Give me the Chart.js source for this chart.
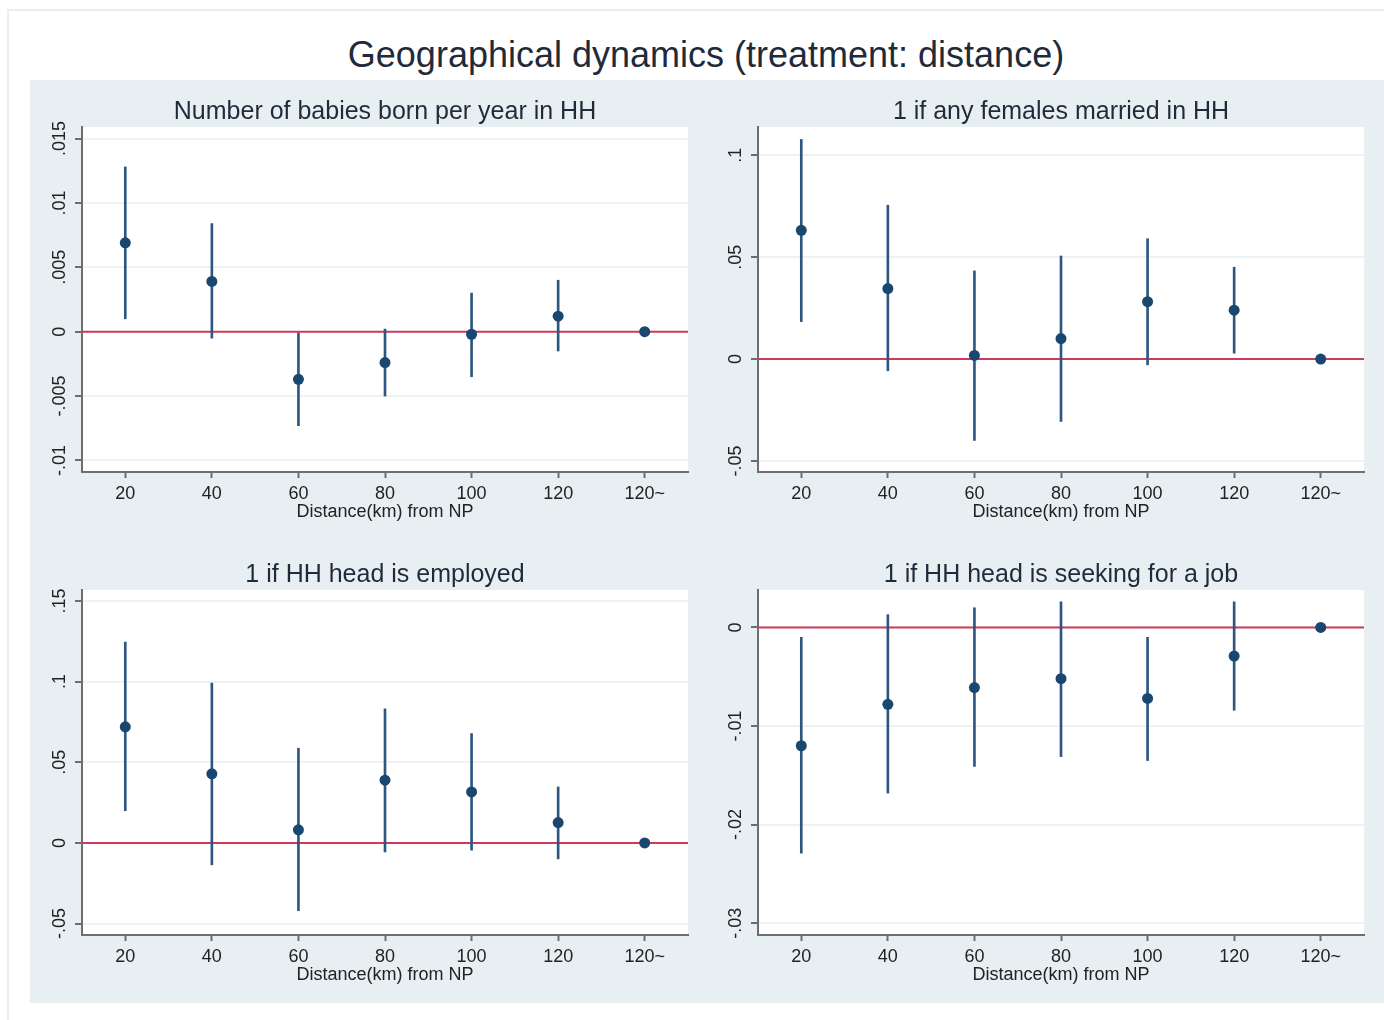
<!DOCTYPE html>
<html>
<head>
<meta charset="utf-8">
<script src="https://cdn.jsdelivr.net/npm/chart.js@4.4.1/dist/chart.umd.min.js"></script>
<style>
  body { margin:0; background:#fff; width:1384px; height:1020px; position:relative; overflow:hidden; font-family:"Liberation Sans", Arial, sans-serif; }
  #frame { position:absolute; left:7px; top:9px; width:1400px; height:1100px; border-left:2px solid #e8efef; border-top:2px solid #e8efef; }
  #bg { position:absolute; left:30px; top:80px; width:1354px; height:923px; background:#e8eff2; }
  #title { position:absolute; left:0; top:36px; width:1412px; text-align:center; font-size:36px; line-height:38px; color:#1f2b3a; }
  canvas { position:absolute; }
</style>
</head>
<body>
<div id="frame"></div>
<div id="bg"></div>
<div id="title">Geographical dynamics (treatment: distance)</div>
<canvas id="babies" width="670" height="437" style="left:30px;top:88px"></canvas>
<canvas id="married" width="670" height="437" style="left:706px;top:88px"></canvas>
<canvas id="employed" width="670" height="437" style="left:30px;top:551px"></canvas>
<canvas id="seeking" width="670" height="437" style="left:706px;top:551px"></canvas>
<script>
const categories = ['20', '40', '60', '80', '100', '120', '120~'];

// Number of babies born per year in HH
const babiesCoef = [0.0069, 0.0039, -0.0037, -0.0024, -0.0002, 0.0012, 0];
const babiesLow  = [0.0010, -0.0005, -0.0073, -0.0050, -0.0035, -0.0015, null];
const babiesHigh = [0.0128, 0.0084, -0.0001, 0.0002, 0.0030, 0.0040, null];
const babiesTicks  = [-0.01, -0.005, 0, 0.005, 0.01, 0.015];
const babiesLabels = ['-.01', '-.005', '0', '.005', '.01', '.015'];

// 1 if any females married in HH
const marriedCoef = [0.0632, 0.0346, 0.0018, 0.0101, 0.0282, 0.0240, 0];
const marriedLow  = [0.0184, -0.0057, -0.0399, -0.0306, -0.0028, 0.0029, null];
const marriedHigh = [0.1078, 0.0755, 0.0433, 0.0506, 0.0591, 0.0451, null];
const marriedTicks  = [-0.05, 0, 0.05, 0.1];
const marriedLabels = ['-.05', '0', '.05', '.1'];

// 1 if HH head is employed
const employedCoef = [0.0720, 0.0428, 0.0081, 0.0389, 0.0316, 0.0126, 0];
const employedLow  = [0.0200, -0.0136, -0.0420, -0.0056, -0.0045, -0.0099, null];
const employedHigh = [0.1245, 0.0991, 0.0587, 0.0831, 0.0678, 0.0347, null];
const employedTicks  = [-0.05, 0, 0.05, 0.1, 0.15];
const employedLabels = ['-.05', '0', '.05', '.1', '.15'];

// 1 if HH head is seeking for a job
const seekingCoef = [-0.0120, -0.0078, -0.0061, -0.0052, -0.0072, -0.0029, 0];
const seekingLow  = [-0.0229, -0.0168, -0.0141, -0.0131, -0.0135, -0.0084, null];
const seekingHigh = [-0.0010, 0.0013, 0.0020, 0.0026, -0.0010, 0.0026, null];
const seekingTicks  = [-0.03, -0.02, -0.01, 0];
const seekingLabels = ['-.03', '-.02', '-.01', '0'];

const FONT = '"Liberation Sans", Arial, sans-serif';
const navy = '#1a476f';
const ciColor = '#2e5680';
const axisColor = '#6e6e6e';
const gridColor = '#edf3f4';
const textColor = '#222222';
const titleColor = '#1f2b3a';

function makePanel(id, title, coef, low, high, yMin, yMax, yTicks, yLabels) {
  const plotBg = {
    id: 'plotBg',
    beforeDraw(chart) {
      const a = chart.chartArea;
      chart.ctx.save();
      chart.ctx.fillStyle = '#ffffff';
      chart.ctx.fillRect(a.left, a.top, a.right - a.left, a.bottom - a.top);
      chart.ctx.restore();
    }
  };
  const zeroLine = {
    id: 'zeroLine',
    beforeDatasetsDraw(chart) {
      const a = chart.chartArea;
      const y = chart.scales.y.getPixelForValue(0);
      const ctx = chart.ctx;
      ctx.save();
      ctx.strokeStyle = '#cf3a58';
      ctx.lineWidth = 2;
      ctx.beginPath();
      ctx.moveTo(a.left, y);
      ctx.lineTo(a.right, y);
      ctx.stroke();
      ctx.restore();
    }
  };
  // rotated y tick labels, like Stata's vertical axis labels
  const yTickText = {
    id: 'yTickText',
    afterDraw(chart) {
      const s = chart.scales.y;
      const ctx = chart.ctx;
      ctx.save();
      ctx.fillStyle = textColor;
      ctx.font = '18px ' + FONT;
      ctx.textAlign = 'center';
      ctx.textBaseline = 'middle';
      yTicks.forEach((v, i) => {
        ctx.save();
        ctx.translate(s.right - 22, s.getPixelForValue(v));
        ctx.rotate(-Math.PI / 2);
        ctx.fillText(yLabels[i], 0, 0);
        ctx.restore();
      });
      ctx.restore();
    }
  };

  new Chart(document.getElementById(id), {
    type: 'bar',
    data: {
      labels: categories,
      datasets: [
        {
          type: 'line',
          data: coef,
          showLine: false,
          pointRadius: 5.5,
          pointHoverRadius: 5.5,
          pointBackgroundColor: navy,
          pointBorderWidth: 0
        },
        {
          type: 'bar',
          data: low.map((v, i) => v === null ? null : [v, high[i]]),
          backgroundColor: ciColor,
          barThickness: 2,
          borderWidth: 0
        }
      ]
    },
    options: {
      responsive: false,
      animation: false,
      events: [],
      layout: { padding: { left: 0, right: 12, top: 0, bottom: 0 } },
      plugins: {
        legend: { display: false },
        tooltip: { enabled: false },
        title: {
          display: true,
          fullSize: false,   // centre the panel title over the plot area
          text: title,
          color: titleColor,
          font: { family: FONT, size: 25, weight: 'normal', lineHeight: 1.2 },
          padding: { top: 9, bottom: 0 }
        }
      },
      scales: {
        x: {
          type: 'category',
          offset: true,
          grid: { display: true, drawOnChartArea: false, drawTicks: true, tickLength: 6, tickColor: axisColor, tickWidth: 2, offset: false },
          border: { display: true, color: axisColor, width: 2 },
          ticks: { color: textColor, font: { family: FONT, size: 18, lineHeight: 1 }, padding: 7, maxRotation: 0, autoSkip: false },
          title: { display: true, text: 'Distance(km) from NP', color: textColor, font: { family: FONT, size: 18, lineHeight: 1 }, padding: { top: -7, bottom: 4 } }
        },
        y: {
          type: 'linear',
          min: yMin,
          max: yMax,
          afterBuildTicks: s => { s.ticks = yTicks.map(v => ({ value: v })); },
          afterFit: s => { s.width = 52; },
          grid: { color: gridColor, lineWidth: 2, drawTicks: true, tickLength: 7, tickColor: axisColor, tickWidth: 2 },
          border: { display: true, color: axisColor, width: 2 },
          ticks: { display: false }
        }
      }
    },
    plugins: [plotBg, zeroLine, yTickText]
  });
}

makePanel('babies', 'Number of babies born per year in HH', babiesCoef, babiesLow, babiesHigh, -0.0109, 0.0159, babiesTicks, babiesLabels);
makePanel('married', '1 if any females married in HH', marriedCoef, marriedLow, marriedHigh, -0.0554, 0.1139, marriedTicks, marriedLabels);
makePanel('employed', '1 if HH head is employed', employedCoef, employedLow, employedHigh, -0.0571, 0.1568, employedTicks, employedLabels);
makePanel('seeking', '1 if HH head is seeking for a job', seekingCoef, seekingLow, seekingHigh, -0.0312, 0.0038, seekingTicks, seekingLabels);
</script>
</body>
</html>
